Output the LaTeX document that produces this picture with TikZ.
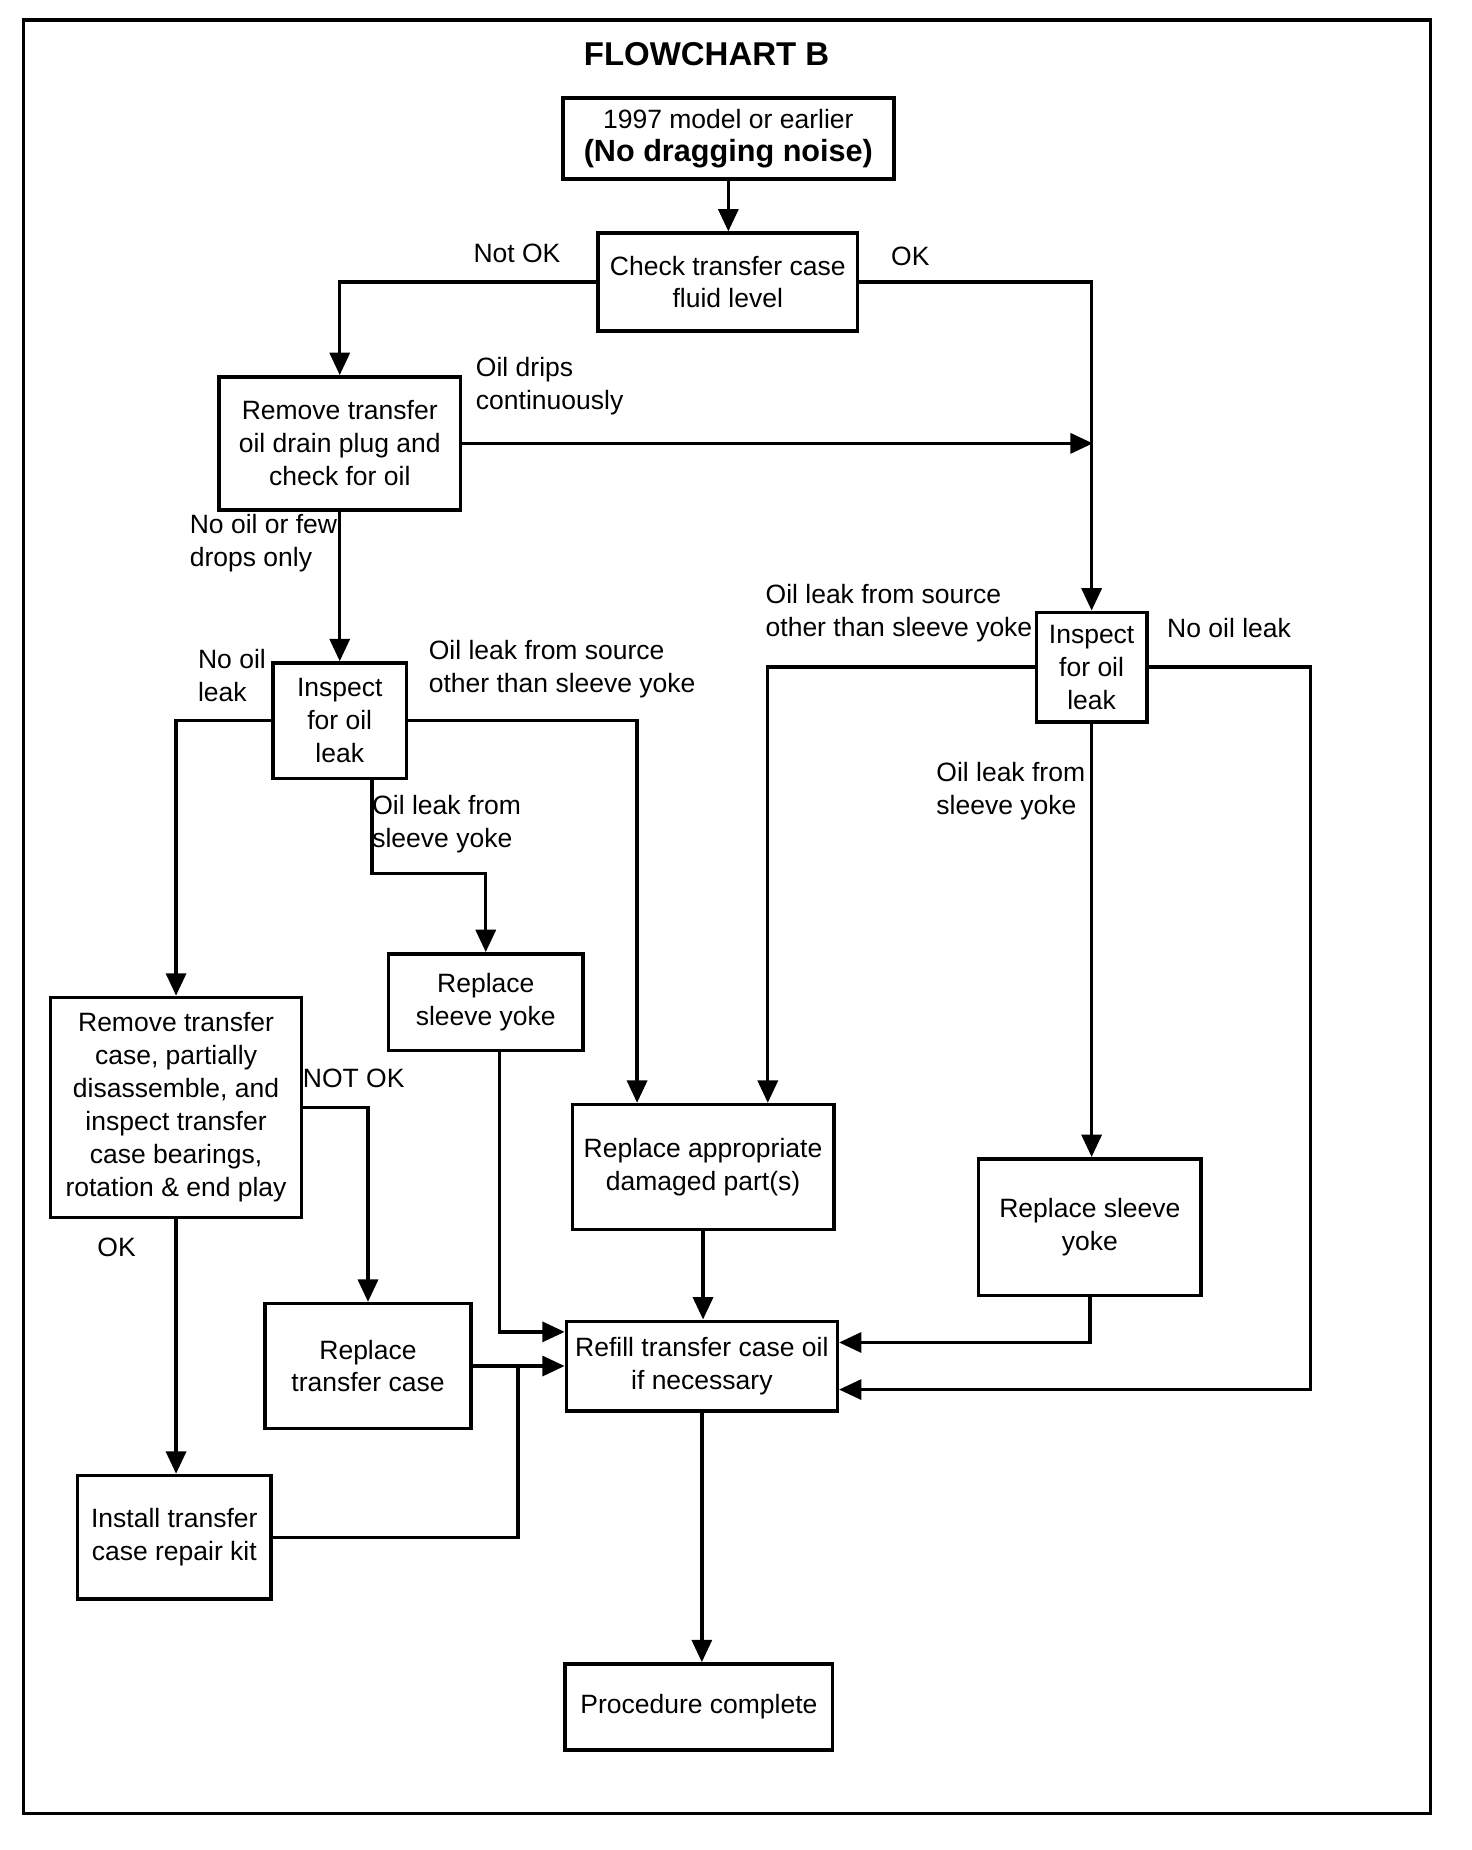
\documentclass[tikz,border=0pt]{standalone}
\usepackage{fontspec}
\setmainfont{Liberation Sans}
\usetikzlibrary{arrows.meta}
\begin{document}
\begin{tikzpicture}[x=1pt,y=-1pt,
 box/.style={draw, line width=3pt, align=center, inner sep=0pt, font=\fontsize{22.5}{28}\selectfont},
 lbl/.style={align=left, inner sep=0pt, font=\fontsize{22.5}{28}\selectfont, anchor=west},
 conn/.style={line width=2.8pt},
 arr/.style={conn, -{Triangle[length=19pt,width=17pt]}}]
\useasboundingbox (0,0) rectangle (1250,1571);
\draw[line width=2.6pt] (20,17) rectangle (1215,1540);
\node[font=\bfseries\fontsize{28}{32}\selectfont] (title) at (600,46) {FLOWCHART B};
% boxes
\node[box, minimum width=281pt, minimum height=69pt] (A) at (618.5,117.5) {1997 model or earlier\\{\bfseries\fontsize{26}{28}\selectfont (No dragging noise)}};
\node[box, minimum width=220pt, minimum height=83pt] (B) at (618,239.5) {Check transfer case\\fluid level};
\node[box, minimum width=205pt, minimum height=113pt] (C) at (288.5,376.5) {Remove transfer\\oil drain plug and\\check for oil};
\node[box, minimum width=113pt, minimum height=98pt] (D) at (288.5,612) {Inspect\\for oil\\leak};
\node[box, minimum width=213pt, minimum height=187pt] (E) at (149.5,940.5) {Remove transfer\\case, partially\\disassemble, and\\inspect transfer\\case bearings,\\rotation \& end play};
\node[box, minimum width=165pt, minimum height=82pt] (F) at (412.5,851) {Replace\\sleeve yoke};
\node[box, minimum width=222pt, minimum height=106pt] (G) at (597,991) {Replace appropriate\\damaged part(s)};
\node[box, minimum width=230pt, minimum height=76pt] (H) at (596,1160) {Refill transfer case oil\\if necessary};
\node[box, minimum width=175pt, minimum height=106pt] (I) at (312.5,1160) {Replace\\transfer case};
\node[box, minimum width=164pt, minimum height=105pt] (J) at (148,1305.5) {Install transfer\\case repair kit};
\node[box, minimum width=227pt, minimum height=73pt] (K) at (593.5,1449.5) {Procedure complete};
\node[box, minimum width=94pt, minimum height=93pt] (L) at (927,566.5) {Inspect\\for oil\\leak};
\node[box, minimum width=189pt, minimum height=116pt] (M) at (925.5,1042) {Replace sleeve\\yoke};
% labels
\node[lbl, anchor=center] (l1) at (439,215) {Not OK};
\node[lbl, anchor=center] (l2) at (773,218) {OK};
\node[lbl] (l3) at (404,328) {Oil drips\\continuously};
\node[lbl] (l4) at (161,461) {No oil or few\\drops only};
\node[lbl] (l5) at (168,574) {No oil\\leak};
\node[lbl] (l6) at (364,568) {Oil leak from source\\other than sleeve yoke};
\node[lbl] (l7) at (316,700) {Oil leak from\\sleeve yoke};
\node[lbl] (l8) at (257,916) {NOT OK};
\node[lbl, anchor=center] (l9) at (99,1059) {OK};
\node[lbl] (l10) at (650,521) {Oil leak from source\\other than sleeve yoke};
\node[lbl] (l11) at (991,533) {No oil leak};
\node[lbl] (l12) at (795,672) {Oil leak from\\sleeve yoke};
% connectors
\draw[arr] (A.south) -- (A.south |- B.north);
\draw[arr] (B.west) -| (C.north);
\draw[arr] (B.east) -| (L.north);
\coordinate (cR) at (928,376.5);
\draw[arr] (C.east) -- (cR);
\draw[arr] (C.south) -- (D.north);
\draw[arr] (D.west) -| (E.north);
\coordinate (gL) at (541,991);
\draw[arr] (D.east) -| (G.north -| gL);
\coordinate (d1) at (316,742);
\draw[arr] (D.south -| d1) -- (d1) -| (F.north);
\coordinate (f1) at (424,1131);
\draw[arr] (F.south -| f1) -- (f1) -- (f1 -| H.west);
\draw[arr] (E.east) -| (I.north);
\draw[arr] (E.south) -- (E.south |- J.north);
\draw[arr] (G.south) -- (G.south |- H.north);
\draw[arr] (I.east) -- (H.west);
\coordinate (j1) at (440,1160);
\draw[conn] (J.east) -| (j1);
\draw[arr] (H.south) -- (H.south |- K.north);
\coordinate (gR) at (652,991);
\draw[arr] (L.west) -| (G.north -| gR);
\coordinate (r1) at (1113,1180);
\draw[arr] (L.east) -| (r1) -- (r1 -| H.east);
\draw[arr] (L.south) -- (L.south |- M.north);
\coordinate (m1) at (925.5,1140);
\draw[arr] (M.south) -- (m1) -- (m1 -| H.east);
\end{tikzpicture}
\end{document}
